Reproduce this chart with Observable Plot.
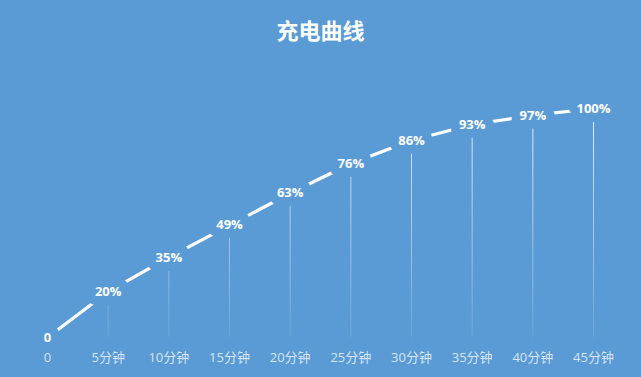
<!DOCTYPE html>
<html>
<head>
<meta charset="utf-8">
<script src="https://cdn.jsdelivr.net/npm/d3@7"></script>
<script src="https://cdn.jsdelivr.net/npm/@observablehq/plot@0.6"></script>
<style>
  html, body { margin: 0; padding: 0; background: #5b9bd5; }
  #wrap { width: 641px; height: 377px; background: #5b9bd5; overflow: hidden; font-family: "Noto Sans CJK SC", sans-serif; }
  #title { height: 60px; line-height: 58px; text-align: center; color: #fff; font-size: 22px; font-weight: bold; }
</style>
</head>
<body>
<div id="wrap">
  <div id="title">充电曲线</div>
  <div id="chart"></div>
</div>
<script>
const minutes = [0, 5, 10, 15, 20, 25, 30, 35, 40, 45];
const charge = [0, 20, 35, 49, 63, 76, 86, 93, 97, 100];
const tickLabels = ["0", "5分钟", "10分钟", "15分钟", "20分钟", "25分钟", "30分钟", "35分钟", "40分钟", "45分钟"];
const pointLabels = ["0", "20%", "35%", "49%", "63%", "76%", "86%", "93%", "97%", "100%"];

const data = minutes.map((m, i) => ({ m, v: charge[i], label: pointLabels[i] }));
const BG = "#5b9bd5";
const FONT = "\"Open Sans\", \"Noto Sans CJK SC\", sans-serif";

const svg = Plot.plot({
  width: 641,
  height: 317,
  marginLeft: 47,
  marginRight: 48,
  marginTop: 48,
  marginBottom: 40,
  style: { background: BG, fontFamily: FONT, overflow: "visible" },
  x: { domain: [0, 45], label: null },
  y: { domain: [0, 100], axis: null },
  marks: [
    Plot.ruleX(data.filter(d => d.v > 0), { x: "m", y1: 0, y2: "v", stroke: "url(#dropGrad)", strokeWidth: 1 }),
    Plot.line(data, { x: "m", y: "v", stroke: "#fff", strokeWidth: 3.2 }),
    Plot.dot(data, { x: "m", y: "v", r: 10, fill: BG, stroke: "none" }),
    Plot.text(data, { x: "m", y: "v", text: "label", fill: "#fff", stroke: BG, strokeWidth: 18, fontSize: 13, fontWeight: "bold", fontFamily: FONT }),
    Plot.axisX({ ticks: minutes, tickSize: 0, tickPadding: 15, fontSize: 13, fontFamily: FONT, tickFormat: d => tickLabels[minutes.indexOf(d)], color: "rgba(255,255,255,0.75)", label: null })
  ]
});

const defs = d3.select(svg).insert("defs", ":first-child");
const g = defs.append("linearGradient").attr("id", "dropGrad")
  .attr("gradientUnits", "userSpaceOnUse")
  .attr("x1", 0).attr("x2", 0).attr("y1", 48).attr("y2", 277);
g.append("stop").attr("offset", "0%").attr("stop-color", "#fff").attr("stop-opacity", 0.85);
g.append("stop").attr("offset", "100%").attr("stop-color", "#fff").attr("stop-opacity", 0.1);

document.getElementById("chart").appendChild(svg);
</script>
</body>
</html>
